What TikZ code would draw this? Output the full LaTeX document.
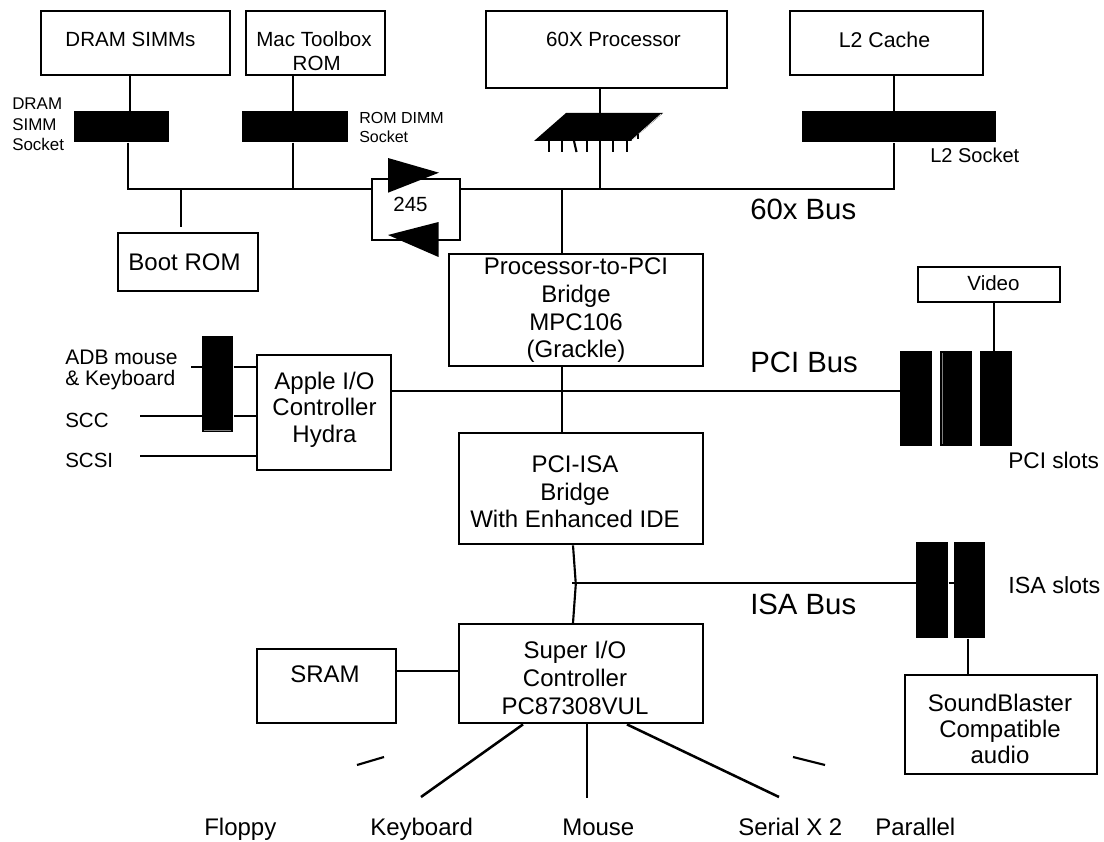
\documentclass[tikz,border=0pt]{standalone}
\usepackage{fontspec}
\setmainfont{Liberation Sans}
\tikzset{
  wire/.style={draw=black,line width=1.6pt},
  thick wire/.style={draw=black,line width=1.9pt},
  box/.style={draw=black,line width=1.8pt,fill=white,inner sep=0pt,anchor=north west},
  block/.style={fill=black,draw=none,inner sep=0pt,anchor=north west},
  txt/.style={inner sep=0pt,align=center},
  lbl/.style={inner sep=0pt,align=left,anchor=west},
  foot/.style={inner sep=0pt,anchor=base west,font=\fontsize{18}{20.8}\selectfont},
  fs/.style={font=\fontsize{15.4}{18}\selectfont},
  fm/.style={font=\fontsize{18}{20.8}\selectfont},
  fb/.style={font=\fontsize{22}{26}\selectfont}
}
\begin{document}
\begin{tikzpicture}[x=0.75pt,y=-0.75pt]
\useasboundingbox[fill=white] (0,0) rectangle (1104,842);
% boxes
\node[box,minimum width=141.75pt,minimum height=48pt] (dram) at (40,10) {};
\node[box,minimum width=104.25pt,minimum height=48pt] (mac) at (245,10) {};
\node[box,minimum width=180.75pt,minimum height=57.75pt] (cpu) at (485,10) {};
\node[box,minimum width=144.75pt,minimum height=48pt] (l2) at (789,10) {};
\node[box,minimum width=105pt,minimum height=43.5pt] (boot) at (117,231.5) {};
\node[box,minimum width=66pt,minimum height=45.75pt] (xcvr) at (370.5,178) {};
\node[box,minimum width=190.5pt,minimum height=84pt] (bridge) at (448,253) {};
\node[box,minimum width=100.5pt,minimum height=86.25pt] (hydra) at (255.5,354) {};
\node[box,minimum width=183pt,minimum height=83.25pt] (isa) at (458,432) {};
\node[box,minimum width=106.5pt,minimum height=26.25pt] (video) at (917,266) {};
\node[box,minimum width=183pt,minimum height=74.25pt] (super) at (458,623) {};
\node[box,minimum width=104.25pt,minimum height=55.5pt] (sram) at (255.5,648) {};
\node[box,minimum width=144pt,minimum height=74.25pt] (sound) at (904,674) {};
% sockets and slots
\node[block,minimum width=71.25pt,minimum height=23.25pt] (s1) at (74,111) {};
\node[block,minimum width=79.5pt,minimum height=23.25pt] (s2) at (242,111) {};
\node[block,minimum width=145.5pt,minimum height=23.25pt] (s4) at (802,111) {};
\node[block,minimum width=23.25pt,minimum height=72pt] (adb) at (202,336) {};
\foreach \n/\xx in {p1/900,p2/940,p3/980}
  \node[block,minimum width=24pt,minimum height=71.25pt] (\n) at (\xx,351) {};
\node[block,minimum width=24pt,minimum height=72pt] (i1) at (916,542) {};
\node[block,minimum width=23.25pt,minimum height=72pt] (i2) at (954,542) {};
\draw[gray,line width=.4pt] (204,430) -- (231,430);
\draw[gray,line width=.4pt] (942,353) -- (942,444);
% processor socket
\fill[black] (534,141) -- (566,113) -- (663,113) -- (631,141) -- cycle;
\draw[white,line width=.4pt] (632,140) -- (661,114);
\draw[line width=1.5pt] (637.5,134) -- (637.5,139);
\foreach \xx in {549,562,587,613,627}
  \draw[line width=1.6pt] (\xx,141) -- (\xx,152);
\draw[line width=1.6pt] (574,141) -- (576.5,152);
% named junctions
\coordinate (busL) at (128,189);
\coordinate (busR) at (894,189);
\coordinate (kink) at (575.8,584);
% wires
\draw[wire] (dram.south -| 130,0) -- (s1.north -| 130,0);
\draw[wire] (s1.south -| 128,0) -- (busL) -- (xcvr.west |- busL);
\draw[wire] (xcvr.east |- busL) -- (busR) -- (s4.south -| busR);
\draw[wire] (s4.north -| busR) -- (l2.south -| busR);
\draw[wire] (181,189) -- (181,227);
\draw[wire] (mac.south -| 293,0) -- (s2.north -| 293,0);
\draw[wire] (s2.south -| 293,0) -- (293,189);
\draw[wire] (cpu.south -| 600,0) -- (600,189);
\draw[wire] (562,189) -- (bridge.north -| 562,0);
\draw[wire] (bridge.south -| 562,0) -- (isa.north -| 562,0);
\draw[wire] (hydra.east |- 0,391) -- (p1.west |- 0,391);
\draw[wire] (video.south -| 994,0) -- (p3.north -| 994,0);
\draw[wire] (191,367) -- (adb.west |- 0,367);
\draw[wire] (adb.east |- 0,367) -- (hydra.west |- 0,367);
\draw[wire] (140,416) -- (adb.west |- 0,416);
\draw[wire] (adb.east |- 0,416) -- (hydra.west |- 0,416);
\draw[wire] (140,456) -- (hydra.west |- 0,456);
\draw[wire] (isa.south -| 573,0) -- (kink) -- (super.north -| 573,0);
\draw[wire] (572,583) -- (i1.west |- 0,583);
\draw[wire] (i1.east |- 0,583) -- (i2.west |- 0,583);
\draw[wire] (i2.south -| 968,0) -- (sound.north -| 968,0);
\draw[wire] (sram.east |- 0,671) -- (super.west |- 0,671);
\draw[thick wire] (super.south -| 523,0) -- (421,797);
\draw[wire] (super.south -| 587,0) -- (587,798);
\draw[thick wire] (super.south -| 627,0) -- (779,797);
\draw[wire] (357,765) -- (384,757);
\draw[wire] (793,757) -- (825,765);
% transceiver triangles
\fill[black] (388,158) -- (439,172.7) -- (388,192.7) -- cycle;
\fill[black] (388,235) -- (438.5,222) -- (438.5,257) -- cycle;
% box texts
\node[txt,fs] (tdram) at (130.5,39.5) {DRAM SIMMs};
\node[txt,font=\fontsize{15.4}{18}\selectfont] (tmac) at (314,51) {Mac Toolbox\\\hspace*{4pt}ROM};
\node[txt,fs] (tcpu) at (613.5,39.5) {60X Processor};
\node[txt,font=\fontsize{16}{18}\selectfont] (tl2) at (884.5,39.5) {L2 Cache};
\node[txt,fm] (tboot) at (184.5,262) {Boot ROM};
\node[txt,fs] (t245) at (410.5,204) {245};
\node[txt,fm] (tbridge) at (576,310.5) {Processor-to-PCI\\Bridge\\MPC106\\(Grackle)};
\node[txt,font=\fontsize{18}{20}\selectfont] (thydra) at (324.5,409.5) {Apple I/O\\Controller\\Hydra};
\node[txt,fm] (tisa) at (575,492) {PCI-ISA\\Bridge\\With Enhanced IDE};
\node[txt,fs] (tvideo) at (993.5,283) {Video};
\node[txt,fm] (tsuper) at (575,678) {Super I/O\\Controller\\PC87308VUL};
\node[txt,fm] (tsram) at (325,674) {SRAM};
\node[txt,font=\fontsize{18}{19.5}\selectfont] (tsound) at (1000,729) {SoundBlaster\\Compatible\\audio};
% outside labels
\node[lbl,font=\fontsize{12.7}{15.4}\selectfont] (t1) at (12,124.5) {DRAM\\SIMM\\Socket};
\node[lbl,font=\fontsize{12}{14.2}\selectfont] (t2) at (359,127.5) {ROM DIMM\\Socket};
\node[lbl,font=\fontsize{15}{18}\selectfont] (t3) at (930,155) {L2 Socket};
\node[lbl,fb] (b1) at (750,209) {60x Bus};
\node[lbl,fb] (b2) at (750,362) {PCI Bus};
\node[lbl,fb] (b3) at (750,604) {ISA Bus};
\node[lbl,font=\fontsize{15.8}{15.8}\selectfont] (t4) at (65,370) {ADB mouse\\\& Keyboard};
\node[lbl,fs] (t5) at (65,420) {SCC};
\node[lbl,fs] (t6) at (65,460) {SCSI};
\node[lbl,font=\fontsize{17}{18}\selectfont] (t7) at (1008,460) {PCI slots};
\node[lbl,font=\fontsize{17.5}{18}\selectfont] (t8) at (1008,585) {ISA slots};
\node[foot] (f1) at (204,835) {Floppy};
\node[foot] (f2) at (370,835) {Keyboard};
\node[foot] (f3) at (562,835) {Mouse};
\node[foot] (f4) at (738,835) {Serial X 2};
\node[foot] (f5) at (875,835) {Parallel};
\end{tikzpicture}
\end{document}
